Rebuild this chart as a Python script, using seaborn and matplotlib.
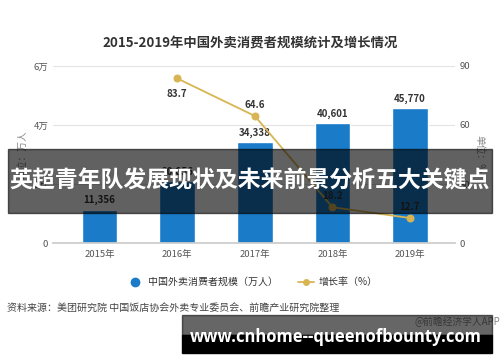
import numpy as np
import pandas as pd
import seaborn as sns
import matplotlib
matplotlib.use("Agg")
import matplotlib.pyplot as plt
from matplotlib.lines import Line2D
from matplotlib.patches import Rectangle

years = ["2015年", "2016年", "2017年", "2018年", "2019年"]
scale = [11356, 20856, 34338, 40601, 45770]
growth = [np.nan, 83.7, 64.6, 18.2, 12.7]
left_ticks = [0, 20000, 40000, 60000]
left_labels = ["0", "2万", "4万", "6万"]
right_ticks = [0, 30, 60, 90]

title = "2015-2019年中国外卖消费者规模统计及增长情况"
bar_name = "中国外卖消费者规模（万人）"
line_name = "增长率（%）"
source = "资料来源：美团研究院 中国饭店协会外卖专业委员会、前瞻产业研究院整理"
banner = "英超青年队发展现状及未来前景分析五大关键点"
site = "www.cnhome--queenofbounty.com"
credit = "@前瞻经济学人APP"

sns.set_theme(style="white")
plt.rcParams['font.family'] = ['Noto Sans CJK SC', 'DejaVu Sans']

BAR = "#1a7bc9"
GOLD = "#d8b552"

fig = plt.figure(figsize=(5, 3.62), dpi=100)
ax = fig.add_axes([0.106, 0.3287, 0.804, 0.489])
df = pd.DataFrame({"year": years, "scale": scale, "growth": growth})
sns.barplot(data=df, x="year", y="scale", color=BAR, width=0.46, ax=ax, saturation=1)
ax.set_xlim(-0.6, 4.58)
ax.set_ylim(0, 60000)
ax.set_yticks(left_ticks)
ax.set_yticklabels(left_labels)
ax.yaxis.grid(True, color="#e3e3e3", lw=0.8)
ax.set_axisbelow(True)
for s in ["top", "right", "left"]:
    ax.spines[s].set_visible(False)
ax.spines["bottom"].set_color("#cccccc")
ax.tick_params(axis="both", length=0, labelsize=6.8, colors="#555555")
ax.tick_params(axis="x", pad=5)
ax.set_xlabel("")
ax.set_ylabel("单位：万人", fontsize=7, color="#888888", labelpad=4)
for c in ax.containers:
    ax.bar_label(c, labels=[f"{v:,}" for v in scale], padding=3, fontsize=7,
                 fontweight="bold", color="#333333")

ax2 = ax.twinx()
sns.lineplot(x=np.arange(len(years)), y=growth, ax=ax2, color=GOLD, lw=1.3,
             marker="o", markersize=5, markeredgecolor=GOLD, markerfacecolor=GOLD)
ax2.set_ylim(0, 90)
ax2.set_yticks(right_ticks)
ax2.tick_params(axis="y", length=0, labelsize=6.8, colors="#555555")
for s in ["top", "right", "left", "bottom"]:
    ax2.spines[s].set_visible(False)
ax2.set_ylabel("单位：%", fontsize=7, color="#888888", rotation=270, labelpad=10)
ax2.grid(False)
offsets = [None, -11, 8, 8, 8]
for i, g in enumerate(growth):
    if np.isnan(g):
        continue
    ax2.annotate(f"{g}", (i, g), xytext=(0, offsets[i]), textcoords="offset points",
                 ha="center", va="center", fontsize=7, fontweight="bold", color="#333333")

fig.text(0.5, 0.881, title, ha="center", va="center", fontsize=9.6,
         fontweight="bold", color="#333333")

handles = [Line2D([], [], marker="o", color=BAR, lw=0, markersize=6),
           Line2D([], [], marker="o", color=GOLD, lw=1.3, markersize=4)]
fig.legend(handles, [bar_name, line_name], loc="center", bbox_to_anchor=(0.505, 1 - 282 / 362),
           ncol=2, frameon=False, fontsize=7.2, handlelength=1.6, columnspacing=2.0,
           handletextpad=0.5, labelcolor="#333333")

fig.text(7 / 500, 1 - 308 / 362, source, ha="left", va="center", fontsize=7.2, color="#444444")
fig.text(1.0, 1 - 322 / 362, credit, ha="right", va="center", fontsize=7, color="#888888")

# overlay banners
fig.patches.append(Rectangle((8 / 500, 1 - 213 / 362), 484 / 500, 64 / 362,
                             transform=fig.transFigure, color="black", alpha=0.62, zorder=10))
fig.text(0.5, 1 - 181 / 362, banner, ha="center", va="center", fontsize=16.5,
         fontweight="bold", color="white", zorder=11)
fig.patches.append(Rectangle((182 / 500, 1 - 335 / 362), 310 / 500, 20 / 362,
                             transform=fig.transFigure, color="black", alpha=0.6, zorder=10))
fig.patches.append(Rectangle((182 / 500, 1 - 353 / 362), 310 / 500, 18 / 362,
                             transform=fig.transFigure, color="black", zorder=10))
fig.text(336 / 500, 1 - 337 / 362, site, ha="center", va="center", fontsize=12,
         fontweight="bold", color="white", family=["Open Sans", "DejaVu Sans"], zorder=11)

fig.savefig("out.png", dpi=100)
